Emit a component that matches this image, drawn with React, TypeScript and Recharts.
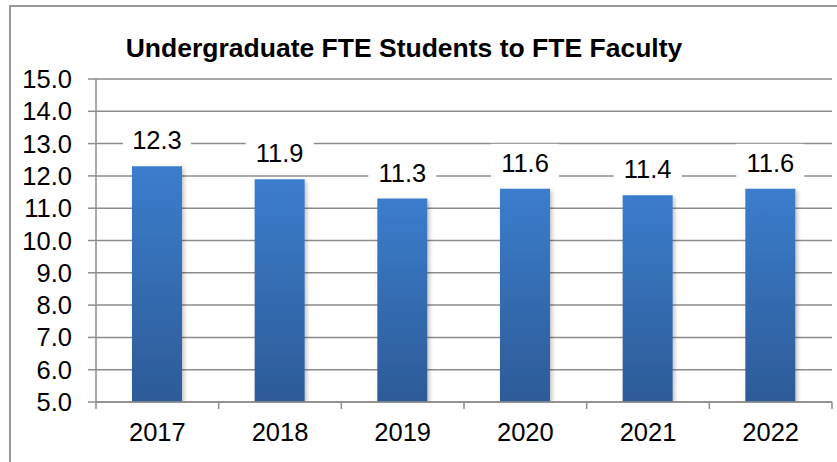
import { BarChart, Bar, XAxis, YAxis, CartesianGrid, LabelList } from 'recharts';

// values
const years = ['2017', '2018', '2019', '2020', '2021', '2022'];
const ratios = [12.3, 11.9, 11.3, 11.6, 11.4, 11.6];
const yTicks = [5, 6, 7, 8, 9, 10, 11, 12, 13, 14, 15];

const data = years.map((year, i) => ({ year, ratio: ratios[i] }));

const FONT = '"Liberation Sans", Arial, sans-serif';
const GRID = '#8c8c8c';
const PLOT_LEFT = 96;
const PLOT_RIGHT = 832;
const HALF_BAND = (PLOT_RIGHT - PLOT_LEFT) / years.length / 2;

function YearTick(props: any) {
  const { x, y, payload, index } = props;
  const last = index === years.length - 1;
  return (
    <g>
      <line x1={x - HALF_BAND} y1={y} x2={x - HALF_BAND} y2={y + 7} stroke={GRID} strokeWidth={1.5} />
      {last && <line x1={x + HALF_BAND} y1={y} x2={x + HALF_BAND} y2={y + 7} stroke={GRID} strokeWidth={1.5} />}
      <text x={x} y={y + 39} textAnchor="middle" fontSize={25.5} fontFamily={FONT} fill="#000">
        {payload.value}
      </text>
    </g>
  );
}

function ValueLabel(props: any) {
  const { x, y, width, value } = props;
  const cx = x + width / 2;
  const cy = y - 26;
  return (
    <g>
      <rect x={cx - 34} y={cy - 19} width={68} height={38} fill="#fff" />
      <text x={cx} y={cy} textAnchor="middle" dominantBaseline="central" fontSize={25.5} fontFamily={FONT} fill="#000">
        {Number(value).toFixed(1)}
      </text>
    </g>
  );
}

export default function App() {
  return (
    <div style={{ position: 'absolute', left: 0, top: 0, width: 837, height: 462, overflow: 'hidden', background: '#fff' }}>
      <div
        style={{
          position: 'absolute',
          left: 9,
          top: 5,
          width: 900,
          height: 600,
          border: '2px solid #999',
        }}
      />
      <div
        style={{
          position: 'absolute',
          left: 0,
          top: 35,
          width: 808,
          textAlign: 'center',
          fontFamily: FONT,
          fontWeight: 'bold',
          fontSize: 26.5,
          lineHeight: '26px',
          color: '#000',
        }}
      >
        Undergraduate FTE Students to FTE Faculty
      </div>
      <div style={{ position: 'absolute', left: 0, top: 0 }}>
        <BarChart width={837} height={462} data={data} margin={{ top: 79, right: 5, bottom: 30, left: 0 }}>
          <defs>
            <linearGradient id="barFill" x1="0" y1="0" x2="0" y2="1">
              <stop offset="0%" stopColor="#3b7dcd" />
              <stop offset="100%" stopColor="#2d5b97" />
            </linearGradient>
            <filter id="barShadow" x="-20%" y="-10%" width="140%" height="120%">
              <feDropShadow dx="2" dy="2" stdDeviation="2" floodColor="#000" floodOpacity="0.25" />
            </filter>
          </defs>
          <CartesianGrid vertical={false} stroke={GRID} strokeWidth={1.5} />
          <XAxis
            dataKey="year"
            height={30}
            tickLine={false}
            tickSize={0}
            tickMargin={0}
            axisLine={{ stroke: GRID, strokeWidth: 1.5 }}
            tick={<YearTick />}
            interval={0}
          />
          <YAxis
            width={96}
            domain={[5, 15]}
            ticks={yTicks}
            interval={0}
            tickFormatter={(v: number) => v.toFixed(1)}
            tickSize={8}
            tickMargin={16}
            axisLine={{ stroke: GRID, strokeWidth: 1.5 }}
            tickLine={{ stroke: GRID, strokeWidth: 1.5 }}
            tick={{ fontSize: 25.5, fontFamily: FONT, fill: '#000' }}
            allowDataOverflow
          />
          <Bar dataKey="ratio" barSize={50} fill="url(#barFill)" filter="url(#barShadow)" isAnimationActive={false}>
            <LabelList dataKey="ratio" content={<ValueLabel />} />
          </Bar>
        </BarChart>
      </div>
    </div>
  );
}
